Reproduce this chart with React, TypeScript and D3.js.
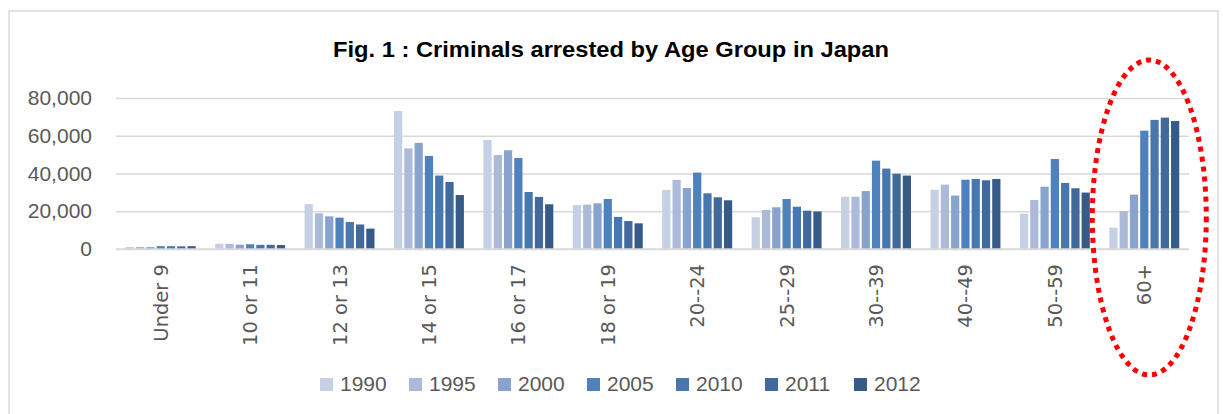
import { useEffect, useRef } from "react";
import { axisLeft, scaleBand, scaleLinear, select } from "d3";

const categories = [
  "Under 9",
  "10 or 11",
  "12 or 13",
  "14 or 15",
  "16 or 17",
  "18 or 19",
  "20--24",
  "25--29",
  "30--39",
  "40--49",
  "50--59",
  "60+",
];

const years = ["1990", "1995", "2000", "2005", "2010", "2011", "2012"];

// one array per year, in category order
const v1990 = [1100, 2800, 23800, 73100, 57800, 23300, 31300, 16800, 27700, 31400, 18700, 11300];
const v1995 = [1100, 2700, 18900, 53300, 49800, 23500, 36600, 20700, 27700, 34100, 26000, 20100];
const v2000 = [1000, 2300, 17300, 56200, 52300, 24200, 32300, 22100, 30700, 28300, 33000, 28800];
const v2005 = [1500, 2500, 16600, 49300, 48200, 26500, 40500, 26500, 46800, 36700, 47700, 62700];
const v2010 = [1500, 2200, 14300, 38900, 30200, 17000, 29500, 22400, 42600, 37100, 35000, 68400];
const v2011 = [1400, 2200, 13000, 35500, 27600, 14800, 27400, 20300, 39900, 36400, 32200, 69600];
const v2012 = [1500, 2100, 10800, 28600, 23700, 13600, 25800, 19900, 38900, 37100, 29900, 67800];

const series = [v1990, v1995, v2000, v2005, v2010, v2011, v2012];
const colors = ["#c5d0e4", "#acbad9", "#88a3cd", "#4f81bd", "#4876ae", "#41699c", "#375b88"];

const yTicks = [0, 20000, 40000, 60000, 80000];

const W = 1223;
const H = 414;

export default function App() {
  const svgRef = useRef<SVGSVGElement | null>(null);

  useEffect(() => {
    const svg = select(svgRef.current);
    svg.selectAll("*").remove();

    const left = 116;
    const right = 1189;
    const top = 98;
    const bottom = 249;

    // chart frame
    svg
      .append("rect")
      .attr("x", 9)
      .attr("y", 11)
      .attr("width", 1209)
      .attr("height", 430)
      .attr("fill", "#fff")
      .attr("stroke", "#d9d9d9")
      .attr("stroke-width", 1.5);

    svg
      .append("text")
      .attr("x", 611)
      .attr("y", 57)
      .attr("text-anchor", "middle")
      .attr("textLength", 556)
      .attr("lengthAdjust", "spacingAndGlyphs")
      .style("font-family", "'Liberation Sans', Arial, sans-serif")
      .style("font-weight", "bold")
      .style("font-size", "22px")
      .attr("fill", "#000")
      .text("Fig. 1 : Criminals arrested by Age Group in Japan");

    const x0 = scaleBand<string>()
      .domain(categories)
      .range([left, right])
      .paddingInner(0.195)
      .paddingOuter(0.0975);

    const x1 = scaleBand<string>()
      .domain(years)
      .range([0, x0.bandwidth()])
      .paddingInner(0.2)
      .paddingOuter(0.1);

    const y = scaleLinear().domain([0, 80000]).range([bottom, top]);

    // y axis with gridlines
    const yAxis = svg.append("g").attr("transform", `translate(${left},0)`);
    yAxis.call(
      axisLeft(y)
        .tickValues(yTicks)
        .tickSize(-(right - left))
        .tickPadding(24)
        .tickFormat((d) => Number(d).toLocaleString("en-US"))
    );
    yAxis.select(".domain").remove();
    yAxis
      .selectAll(".tick line")
      .attr("stroke", "#d9d9d9")
      .attr("stroke-width", 1.5);
    yAxis
      .selectAll(".tick text")
      .attr("fill", "#595959")
      .style("font-family", "'Liberation Sans', Arial, sans-serif")
      .style("font-size", "21px");

    // bars
    const groups = svg
      .append("g")
      .selectAll("g")
      .data(categories)
      .enter()
      .append("g")
      .attr("transform", (c) => `translate(${x0(c)},0)`);

    groups
      .selectAll("rect")
      .data((c, i) => years.map((yr, k) => ({ yr, k, v: series[k][i] })))
      .enter()
      .append("rect")
      .attr("x", (d) => x1(d.yr) || 0)
      .attr("y", (d) => y(d.v))
      .attr("width", x1.bandwidth())
      .attr("height", (d) => bottom - y(d.v))
      .attr("fill", (d) => colors[d.k]);

    // zero line on top
    svg
      .append("line")
      .attr("x1", left)
      .attr("x2", right)
      .attr("y1", bottom)
      .attr("y2", bottom)
      .attr("stroke", "#d9d9d9")
      .attr("stroke-width", 1.5);

    // category labels
    svg
      .append("g")
      .selectAll("text")
      .data(categories)
      .enter()
      .append("text")
      .attr(
        "transform",
        (c) => `translate(${(x0(c) || 0) + x0.bandwidth() / 2 + 7},264) rotate(-90)`
      )
      .attr("text-anchor", "end")
      .attr("fill", "#595959")
      .style("font-family", "'DejaVu Sans', sans-serif")
      .style("font-size", "19.5px")
      .text((c) => c);

    // legend
    const legend = svg
      .append("g")
      .selectAll("g")
      .data(years)
      .enter()
      .append("g")
      .attr("transform", (d, i) => `translate(${320 + i * 89},378)`);
    legend
      .append("rect")
      .attr("width", 13)
      .attr("height", 13)
      .attr("fill", (d, i) => colors[i]);
    legend
      .append("text")
      .attr("x", 20)
      .attr("y", 13)
      .attr("fill", "#595959")
      .style("font-family", "'Liberation Sans', Arial, sans-serif")
      .style("font-size", "21px")
      .text((d) => d);

    // red dotted highlight around 60+
    const last = categories[categories.length - 1];
    svg
      .append("ellipse")
      .attr("cx", (x0(last) || 0) + x0.bandwidth() / 2 + 5)
      .attr("cy", 217.5)
      .attr("rx", 57)
      .attr("ry", 157.5)
      .attr("fill", "none")
      .attr("stroke", "#ff0000")
      .attr("stroke-width", 5)
      .attr("stroke-dasharray", "5 5");
  }, []);

  return (
    <svg
      ref={svgRef}
      width={W}
      height={H}
      style={{ position: "absolute", left: 0, top: 0, background: "#fff" }}
    ></svg>
  );
}
